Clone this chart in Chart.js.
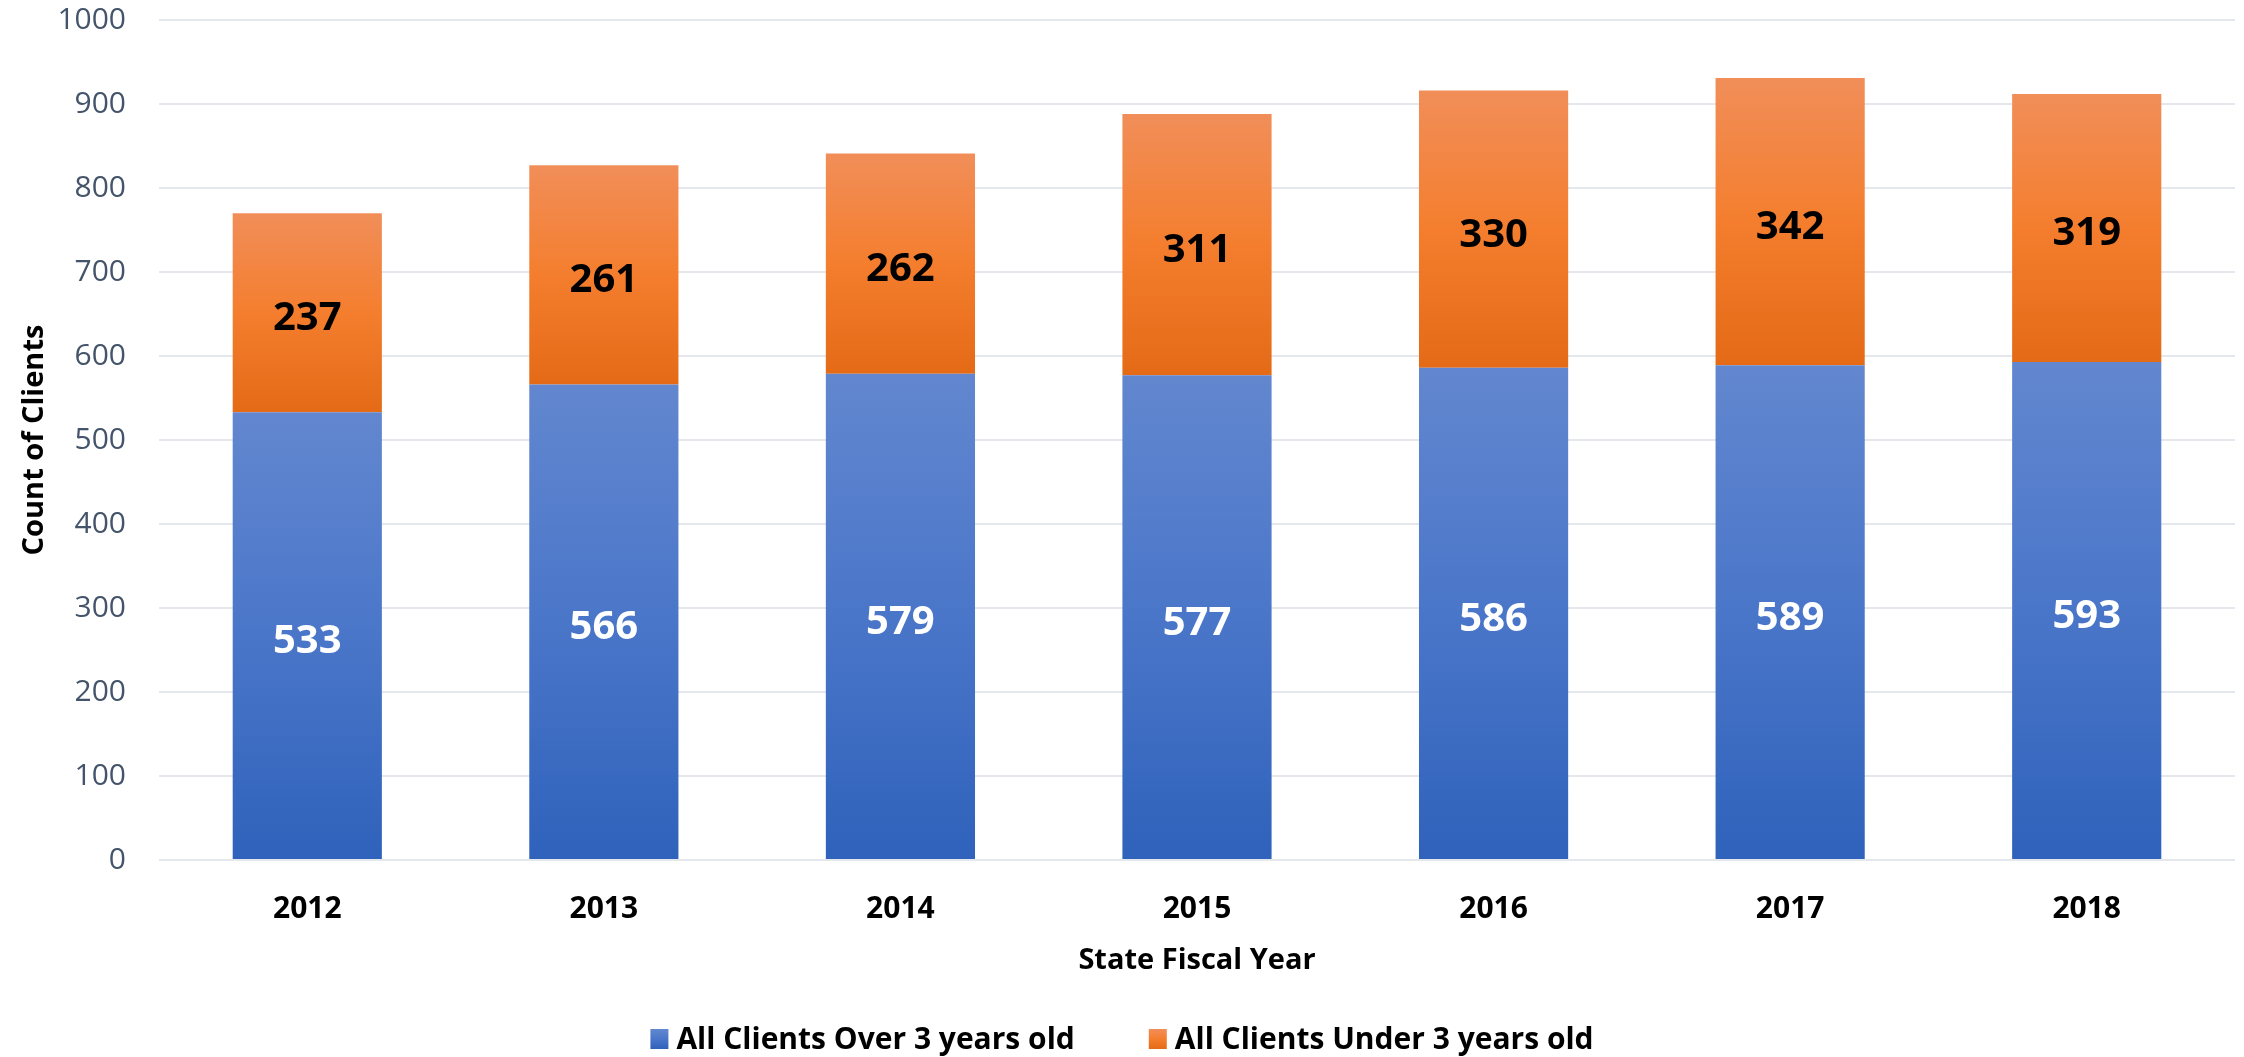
<!DOCTYPE html>
<html>
<head>
<meta charset="utf-8">
<style>
  html, body { margin: 0; padding: 0; background: #ffffff; }
  #wrap { width: 2244px; height: 1057px; position: relative; }
</style>
<script src="https://cdn.jsdelivr.net/npm/chart.js@4/dist/chart.umd.min.js"></script>
</head>
<body>
<div id="wrap"><canvas id="c" width="2244" height="1057"></canvas></div>
<script>
const categories = ['2012', '2013', '2014', '2015', '2016', '2017', '2018'];
const over3 = [533, 566, 579, 577, 586, 589, 593];
const under3 = [237, 261, 262, 311, 330, 342, 319];
const seriesNames = ['All Clients Over 3 years old', 'All Clients Under 3 years old'];
const yTicks = { min: 0, max: 1000, step: 100 };
const xTitle = 'State Fiscal Year';
const yTitle = 'Count of Clients';

const FONT = "'Open Sans', 'Noto Sans', sans-serif";
const blueStops = [[0, '#6287CF'], [0.5, '#4A76C9'], [1, '#2F62BB']];
const orangeStops = [[0, '#F18E59'], [0.5, '#F47E2E'], [1, '#E46A16']];

function makeGrad(c, y0, y1, stops) {
  const g = c.createLinearGradient(0, y0, 0, y1);
  stops.forEach(s => g.addColorStop(s[0], s[1]));
  return g;
}

function segFill(stops) {
  return function (ctx) {
    const chart = ctx.chart;
    if (!chart.chartArea || ctx.type !== 'data') return stops[1][1];
    const ys = chart.scales.y;
    const ds = ctx.datasetIndex, i = ctx.dataIndex;
    let base = 0;
    for (let k = 0; k < ds; k++) base += chart.data.datasets[k].data[i];
    const top = base + chart.data.datasets[ds].data[i];
    return makeGrad(chart.ctx, ys.getPixelForValue(top), ys.getPixelForValue(base), stops);
  };
}

const valueLabels = {
  id: 'valueLabels',
  afterDatasetsDraw(chart) {
    const c = chart.ctx;
    c.save();
    c.font = "bold 40px " + FONT;
    c.textAlign = 'center';
    c.textBaseline = 'middle';
    chart.data.datasets.forEach((ds, di) => {
      const meta = chart.getDatasetMeta(di);
      c.fillStyle = di === 0 ? '#FFFFFF' : '#000000';
      meta.data.forEach((el, i) => {
        c.fillText(String(ds.data[i]), el.x, (el.y + el.base) / 2 + 6);
      });
    });
    c.restore();
  }
};

const customLegend = {
  id: 'customLegend',
  afterDraw(chart) {
    const c = chart.ctx;
    c.save();
    c.font = "bold 30px " + FONT;
    c.textBaseline = 'middle';
    c.textAlign = 'left';
    const boxW = 18, boxH = 20, gapBT = 8, gapItems = 74;
    const widths = seriesNames.map(t => c.measureText(t).width);
    const total = widths.reduce((a, w) => a + boxW + gapBT + w, 0) + gapItems * (seriesNames.length - 1);
    let x = (chart.width - total) / 2;
    const cy = 1039;
    const stopsArr = [blueStops, orangeStops];
    seriesNames.forEach((t, i) => {
      c.fillStyle = makeGrad(c, cy - boxH / 2, cy + boxH / 2, stopsArr[i]);
      c.fillRect(x, cy - boxH / 2, boxW, boxH);
      c.fillStyle = '#000000';
      c.fillText(t, x + boxW + gapBT, cy + 1);
      x += boxW + gapBT + widths[i] + gapItems;
    });
    c.restore();
  }
};

new Chart(document.getElementById('c'), {
  type: 'bar',
  data: {
    labels: categories,
    datasets: [
      { label: seriesNames[0], data: over3, backgroundColor: segFill(blueStops), borderWidth: 0 },
      { label: seriesNames[1], data: under3, backgroundColor: segFill(orangeStops), borderWidth: 0 }
    ]
  },
  options: {
    responsive: false,
    animation: false,
    devicePixelRatio: 1,
    layout: { padding: { left: 0, right: 9, top: 20, bottom: 60 } },
    categoryPercentage: 1,
    barPercentage: 0.503,
    plugins: {
      legend: { display: false },
      tooltip: { enabled: false }
    },
    scales: {
      x: {
        stacked: true,
        grid: { display: false },
        border: { display: false },
        ticks: { color: '#000000', font: { family: FONT, size: 30, weight: 'bold' }, padding: 23 },
        title: { display: true, text: xTitle, color: '#000000', font: { family: FONT, size: 29, weight: 'bold' }, padding: { top: 0, bottom: 19 } },
        afterFit(s) { s.height = 137; }
      },
      y: {
        stacked: true,
        min: yTicks.min,
        max: yTicks.max,
        ticks: { stepSize: yTicks.step, color: '#44546A', font: { family: FONT, size: 30 }, padding: 33, callback: v => String(v) },
        grid: { color: '#E4E7EC', lineWidth: 2, drawTicks: false },
        border: { display: false },
        title: { display: true, text: yTitle, color: '#000000', font: { family: FONT, size: 29, weight: 'bold' }, padding: { top: 17, bottom: 0 } },
        afterFit(s) { s.width = 159; s.paddingTop = 0; s.paddingBottom = 0; }
      }
    }
  },
  plugins: [valueLabels, customLegend]
});
</script>
</body>
</html>
